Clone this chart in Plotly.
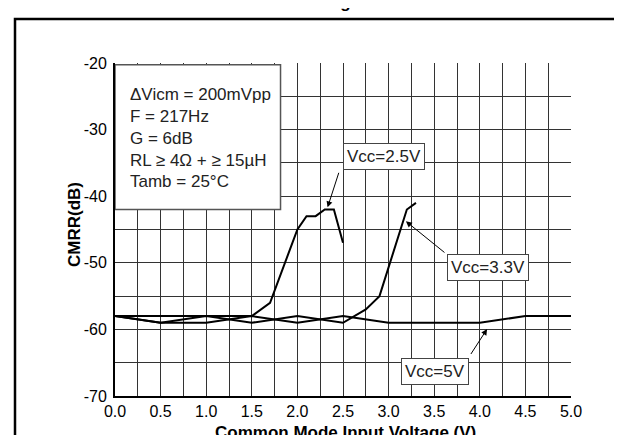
import plotly.graph_objects as go

# ---- data ----
vin_25 = [0.0, 0.5, 1.0, 1.5, 1.7, 2.0, 2.1, 2.2, 2.3, 2.4, 2.5]
cmrr_25 = [-58, -58, -58, -58, -56, -45, -43, -43, -42, -42, -47]

vin_33 = [0.0, 0.5, 1.0, 1.5, 2.0, 2.5, 2.75, 2.9, 3.2, 3.25, 3.3]
cmrr_33 = [-58, -59, -58, -59, -58, -59, -57, -55, -42, -41.5, -41]

vin_5 = [0.0, 0.5, 1.0, 1.5, 2.0, 2.5, 3.0, 3.5, 4.0, 4.5, 5.0]
cmrr_5 = [-58, -59, -59, -58, -59, -58, -59, -59, -59, -58, -58]

x_ticks = [0.0, 0.5, 1.0, 1.5, 2.0, 2.5, 3.0, 3.5, 4.0, 4.5, 5.0]
y_ticks = [-70, -60, -50, -40, -30, -20]

conditions = ["\u0394Vicm = 200mVpp", "F = 217Hz", "G = 6dB",
              "RL \u2265 4\u03a9 + \u2265 15\u00b5H", "Tamb = 25\u00b0C"]

FONT = "Arial, Liberation Sans, sans-serif"
W, H = 622, 435
L, R, T, B = 107, 59, 55, 47
PW, PH = W - L - R, H - T - B


def px2paper_x(px):
    return (px - L) / PW


def px2paper_y(py):
    return (H - B - py) / PH


fig = go.Figure()
for xs, ys in [(vin_5, cmrr_5), (vin_33, cmrr_33), (vin_25, cmrr_25)]:
    fig.add_trace(go.Scatter(x=xs, y=ys, mode="lines",
                             line=dict(color="black", width=2),
                             showlegend=False, hoverinfo="skip"))

shapes = [
    # outer frame
    dict(type="rect", xref="paper", yref="paper",
         x0=px2paper_x(7), x1=px2paper_x(621), y0=px2paper_y(450), y1=px2paper_y(11),
         line=dict(color="black", width=2.5), fillcolor="rgba(0,0,0,0)", layer="above"),
    # conditions box
    dict(type="rect", xref="x", yref="y", x0=0.0, x1=1.815, y0=-42.0, y1=-20.25,
         line=dict(color="#555555", width=1.5), fillcolor="white", layer="above"),
]

annotations = []
cond_y = [-24.76, -28.0, -31.3, -34.6, -37.8]
for txt, yy in zip(conditions, cond_y):
    annotations.append(dict(x=0.145, y=yy, xref="x", yref="y", text=txt,
                            showarrow=False, xanchor="left", yanchor="middle",
                            font=dict(family=FONT, size=17, color="#222222")))

# arrows (head at curve, tail at label box)
arrows = [
    (2.331, -41.67, 2.459, -36.26),
    (3.19, -43.77, 3.629, -48.63),
    (4.08, -59.94, 3.892, -63.92),
]
for hx, hy, tx, ty in arrows:
    annotations.append(dict(x=hx, y=hy, ax=tx, ay=ty, xref="x", yref="y",
                            axref="x", ayref="y", text="", showarrow=True,
                            arrowhead=2, arrowsize=1.2, arrowwidth=1,
                            arrowcolor="black"))

labels = [("Vcc=2.5V", 2.945, -34.1), ("Vcc=3.3V", 4.092, -50.63), ("Vcc=5V", 3.505, -66.25)]
for txt, lx, ly in labels:
    annotations.append(dict(x=lx, y=ly, xref="x", yref="y", text=txt, showarrow=False,
                            xanchor="center", yanchor="middle",
                            bordercolor="#444444", borderwidth=1, borderpad=3,
                            bgcolor="white", font=dict(family=FONT, size=17, color="#222222")))

# titles
annotations.append(dict(x=px2paper_x(337), y=px2paper_y(424), xref="paper", yref="paper",
                        text="<b>Common Mode Input Voltage (V)</b>", showarrow=False,
                        xanchor="center", yanchor="middle",
                        font=dict(family=FONT, size=17, color="black")))
annotations.append(dict(x=px2paper_x(66), y=px2paper_y(217), xref="paper", yref="paper",
                        text="<b>CMRR(dB)</b>", showarrow=False, textangle=-90,
                        xanchor="center", yanchor="middle",
                        font=dict(family=FONT, size=17, color="black")))
annotations.append(dict(x=px2paper_x(322), y=px2paper_y(6), xref="paper", yref="paper",
                        text="<b>Voltage</b>", showarrow=False,
                        xanchor="center", yanchor="bottom",
                        font=dict(family=FONT, size=17, color="black")))

fig.update_layout(
    width=W, height=H,
    margin=dict(l=L, r=R, t=T, b=B),
    paper_bgcolor="white", plot_bgcolor="white",
    font=dict(family=FONT, size=16, color="black"),
    shapes=shapes, annotations=annotations,
    xaxis=dict(range=[0, 5], tickvals=x_ticks, ticktext=[f"{v:.1f}" for v in x_ticks],
               showgrid=True, gridcolor="#333333", gridwidth=1,
               minor=dict(dtick=0.25, showgrid=True, gridcolor="#333333", gridwidth=1),
               showline=True, linecolor="black", linewidth=2,
               ticks="", zeroline=False,
               tickfont=dict(size=16, color="black")),
    yaxis=dict(range=[-70, -20], tickvals=y_ticks, ticktext=[str(v) for v in y_ticks],
               showgrid=True, gridcolor="#333333", gridwidth=1,
               minor=dict(dtick=5, showgrid=True, gridcolor="#333333", gridwidth=1),
               showline=True, linecolor="black", linewidth=2,
               ticks="", zeroline=False, ticklabelstandoff=3,
               tickfont=dict(size=16, color="black")),
)

fig.write_html("out.html")
